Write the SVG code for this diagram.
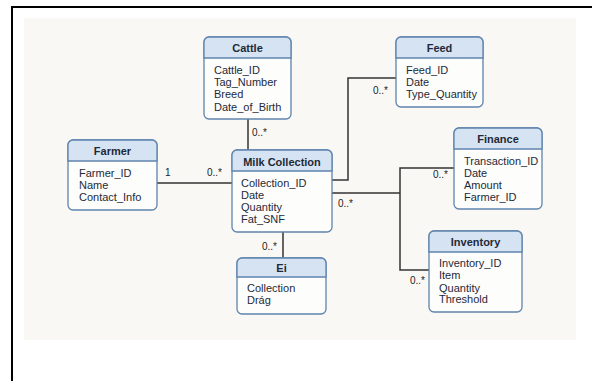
<svg xmlns="http://www.w3.org/2000/svg" width="592" height="381" viewBox="0 0 592 381">
<style>
.box{fill:#fdfdfc;stroke:#5f84ad;stroke-width:1.3}
.hdr{fill:#d5e3f3;stroke:#5f84ad;stroke-width:1.3}
.t{font-family:"Liberation Sans",Arial,sans-serif;font-size:11px;font-weight:bold;fill:#1e2a38;text-anchor:middle}
.a{font-family:"Liberation Sans",Arial,sans-serif;font-size:11px;fill:#1e2a38}
.l{font-family:"Liberation Sans",Arial,sans-serif;font-size:10px;fill:#222}
.c{fill:none;stroke:#333;stroke-width:1.5}
</style>
<rect x="0" y="0" width="592" height="381" fill="#ffffff"/>
<rect x="12" y="7" width="600" height="400" fill="#ffffff" stroke="#000" stroke-width="2"/>
<rect x="24" y="18" width="552" height="322" fill="#faf8f4"/>
<g id="connectors">
<path class="c" d="M157,183 H232"/>
<path class="c" d="M248,119 V150"/>
<path class="c" d="M332,180 H348 V78 H396"/>
<path class="c" d="M332,193 H400"/>
<path class="c" d="M454,168 H400 V270 H429"/>
<path class="c" d="M283,232 V258"/>
<text class="l" x="165" y="176">1</text>
<text class="l" x="207" y="176">0..*</text>
<text class="l" x="252" y="136">0..*</text>
<text class="l" x="373" y="94">0..*</text>
<text class="l" x="338" y="207">0..*</text>
<text class="l" x="433" y="178">0..*</text>
<text class="l" x="410" y="284">0..*</text>
<text class="l" x="262" y="250">0..*</text>
</g>
<g id="cattle">
<rect class="box" x="204" y="37" width="87" height="82" rx="5"/>
<path class="hdr" d="M204,58 V42 A5,5 0 0 1 209,37 H286 A5,5 0 0 1 291,42 V58 Z"/>
<text class="t" x="247.5" y="52">Cattle</text>
<text class="a" x="214" y="74">Cattle_ID</text>
<text class="a" x="214" y="86">Tag_Number</text>
<text class="a" x="214" y="98">Breed</text>
<text class="a" x="214" y="110.5">Date_of_Birth</text>
</g>
<g id="farmer">
<rect class="box" x="68" y="140" width="89" height="70" rx="5"/>
<path class="hdr" d="M68,161 V145 A5,5 0 0 1 73,140 H152 A5,5 0 0 1 157,145 V161 Z"/>
<text class="t" x="112.5" y="154.5">Farmer</text>
<text class="a" x="79" y="176.5">Farmer_ID</text>
<text class="a" x="79" y="189">Name</text>
<text class="a" x="79" y="200.5">Contact_Info</text>
</g>
<g id="milk">
<rect class="box" x="232" y="150" width="100" height="82" rx="5"/>
<path class="hdr" d="M232,171 V155 A5,5 0 0 1 237,150 H327 A5,5 0 0 1 332,155 V171 Z"/>
<text class="t" x="282" y="166">Milk Collection</text>
<text class="a" x="241" y="187">Collection_ID</text>
<text class="a" x="241" y="199">Date</text>
<text class="a" x="241" y="210.5">Quantity</text>
<text class="a" x="241" y="223">Fat_SNF</text>
</g>
<g id="feed">
<rect class="box" x="396" y="37" width="87" height="70" rx="5"/>
<path class="hdr" d="M396,58 V42 A5,5 0 0 1 401,37 H478 A5,5 0 0 1 483,42 V58 Z"/>
<text class="t" x="439.5" y="52">Feed</text>
<text class="a" x="406" y="74">Feed_ID</text>
<text class="a" x="406" y="86">Date</text>
<text class="a" x="406" y="98">Type_Quantity</text>
</g>
<g id="finance">
<rect class="box" x="454" y="128" width="88" height="81" rx="5"/>
<path class="hdr" d="M454,149 V133 A5,5 0 0 1 459,128 H537 A5,5 0 0 1 542,133 V149 Z"/>
<text class="t" x="498" y="143">Finance</text>
<text class="a" x="464" y="164.5">Transaction_ID</text>
<text class="a" x="464" y="176.5">Date</text>
<text class="a" x="464" y="188.5">Amount</text>
<text class="a" x="464" y="200.5">Farmer_ID</text>
</g>
<g id="inventory">
<rect class="box" x="429" y="231" width="93" height="81" rx="5"/>
<path class="hdr" d="M429,252 V236 A5,5 0 0 1 434,231 H517 A5,5 0 0 1 522,236 V252 Z"/>
<text class="t" x="475.5" y="245.5">Inventory</text>
<text class="a" x="439" y="266.5">Inventory_ID</text>
<text class="a" x="439" y="279">Item</text>
<text class="a" x="439" y="291.5">Quantity</text>
<text class="a" x="439" y="303">Threshold</text>
</g>
<g id="ei">
<rect class="box" x="237" y="258" width="89" height="56" rx="5"/>
<path class="hdr" d="M237,277 V263 A5,5 0 0 1 242,258 H321 A5,5 0 0 1 326,263 V277 Z"/>
<text class="t" x="281.5" y="272">Ei</text>
<text class="a" x="247" y="292">Collection</text>
<text class="a" x="247" y="304">Drág</text>
</g>
</svg>
